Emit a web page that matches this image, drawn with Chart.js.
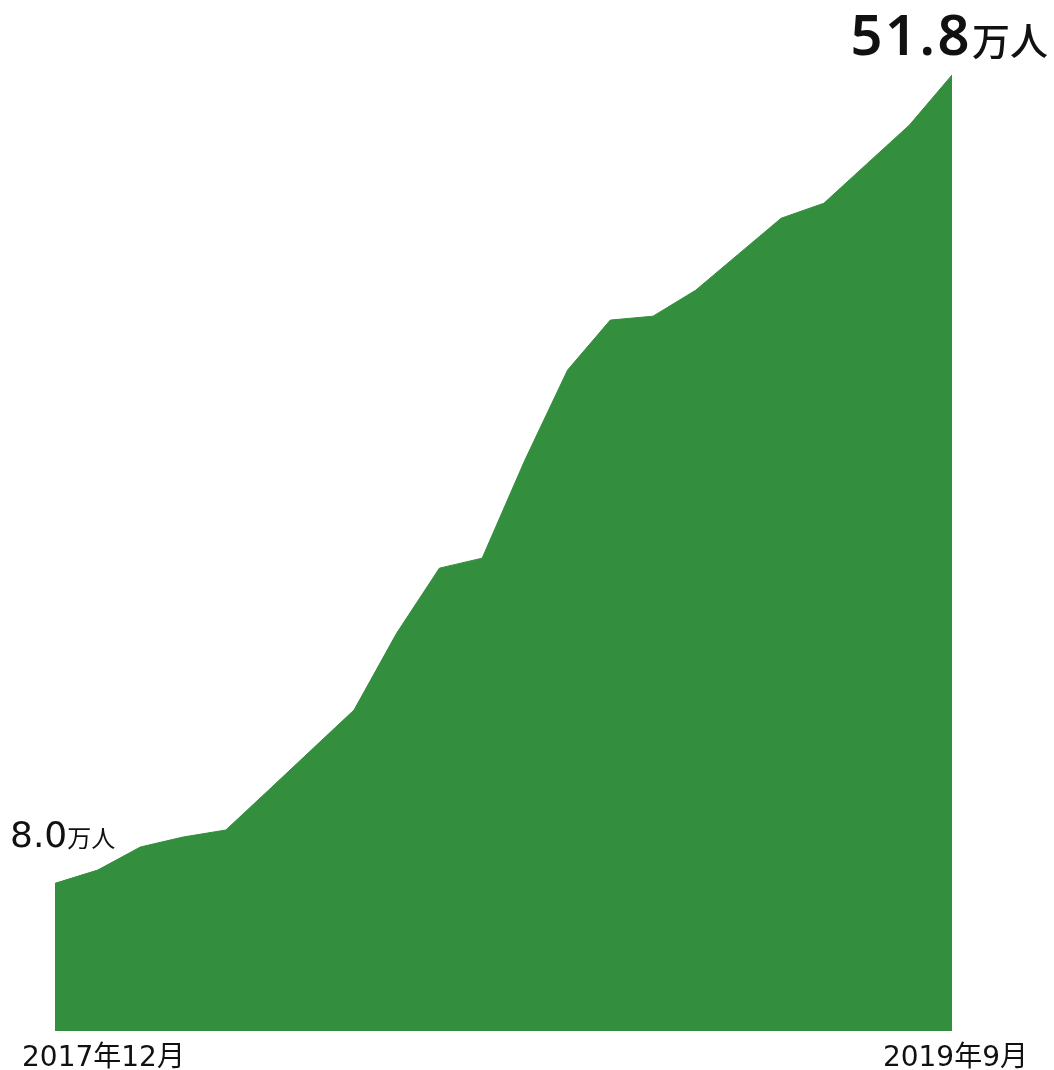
<!DOCTYPE html>
<html lang="ja">
<head>
    <meta charset="UTF-8">
    <title>会員数の推移</title>
    <script src="https://cdn.jsdelivr.net/npm/chart.js"></script>
    <style>
        html, body { margin: 0; padding: 0; background: #fff; }
        #chart { display: block; }
    </style>
</head>
<body>
    <canvas id="chart" width="1054" height="1070"></canvas>

    <script>
        // months, Dec 2017 .. Sep 2019
        const months = [
            '2017年12月', '2018年1月', '2018年2月', '2018年3月', '2018年4月', '2018年5月',
            '2018年6月', '2018年7月', '2018年8月', '2018年9月', '2018年10月', '2018年11月',
            '2018年12月', '2019年1月', '2019年2月', '2019年3月', '2019年4月', '2019年5月',
            '2019年6月', '2019年7月', '2019年8月', '2019年9月'
        ];
        // users (万人)
        const users = [
            8.0, 8.72, 9.97, 10.51, 10.89, 13.05, 15.22, 17.39, 21.56, 25.08, 25.62,
            30.93, 35.81, 38.52, 38.73, 40.14, 42.09, 44.04, 44.85, 46.97, 49.08, 51.8
        ];
        const unit = '万人';
        const green = '#338e3d';
        const bigFont = '"Noto Sans", "Noto Sans CJK JP", sans-serif';
        const smallFont = '"DejaVu Sans", "Noto Sans CJK JP", sans-serif';

        // number + unit label, drawn in two sizes
        function drawValue(ctx, num, x, y, align, numFont, unitFont, spacing) {
            ctx.letterSpacing = spacing + 'px';
            ctx.font = numFont;
            const wNum = ctx.measureText(num).width;
            ctx.letterSpacing = '0px';
            ctx.font = unitFont;
            const wUnit = ctx.measureText(unit).width;
            let left = align === 'right' ? x - wNum - wUnit : x;
            ctx.textAlign = 'left';
            ctx.letterSpacing = spacing + 'px';
            ctx.font = numFont;
            ctx.fillText(num, left, y);
            ctx.letterSpacing = '0px';
            ctx.font = unitFont;
            ctx.fillText(unit, left + wNum, y);
        }

        const labelsPlugin = {
            id: 'labels',
            afterDraw(chart) {
                const ctx = chart.ctx;
                const xs = chart.scales.x, ys = chart.scales.y;
                const last = users.length - 1;
                ctx.save();
                ctx.fillStyle = '#111';
                ctx.textBaseline = 'alphabetic';

                // first and last values
                drawValue(ctx, users[0].toFixed(1), xs.getPixelForValue(0) - 45,
                    ys.getPixelForValue(users[0]) - 36, 'left',
                    '36px ' + smallFont, '24px ' + smallFont, 0);
                drawValue(ctx, users[last].toFixed(1), xs.getPixelForValue(last) + 96,
                    ys.getPixelForValue(users[last]) - 20, 'right',
                    '600 56px ' + bigFont, '500 38px ' + bigFont, 2.5);

                // first and last month
                const base = ys.getPixelForValue(0) + 35;
                ctx.font = '28px ' + smallFont;
                ctx.textAlign = 'left';
                ctx.fillText(months[0], xs.getPixelForValue(0) - 33, base);
                ctx.textAlign = 'right';
                ctx.fillText(months[last], xs.getPixelForValue(last) + 76, base);
                ctx.restore();
            }
        };

        new Chart(document.getElementById('chart'), {
            type: 'line',
            data: {
                labels: months,
                datasets: [{
                    data: users,
                    fill: 'origin',
                    backgroundColor: green,
                    borderColor: green,
                    borderWidth: 1,
                    pointRadius: 0,
                    tension: 0
                }]
            },
            options: {
                responsive: false,
                animation: false,
                layout: { padding: { left: 55, right: 102, top: 75, bottom: 39 } },
                plugins: { legend: { display: false }, tooltip: { enabled: false } },
                scales: {
                    x: { display: false, offset: false },
                    y: { display: false, min: 0, max: 51.8 }
                }
            },
            plugins: [labelsPlugin]
        });
    </script>
</body>
</html>
